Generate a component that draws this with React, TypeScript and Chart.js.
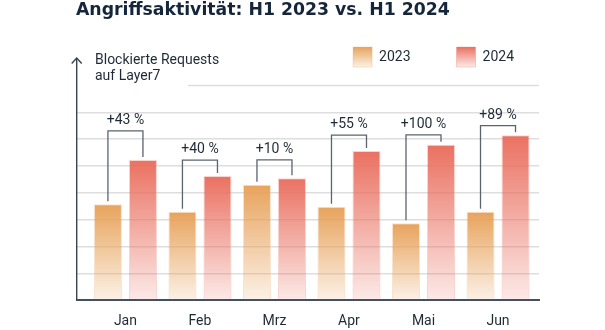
import React, { useEffect, useRef } from 'react';
import { Chart, registerables } from 'chart.js';

Chart.register(...registerables);

const TITLE = 'Angriffsaktivität: H1 2023 vs. H1 2024';
const AXIS_TITLE = ['Blockierte Requests', 'auf Layer7'];
const MONTHS = ['Jan', 'Feb', 'Mrz', 'Apr', 'Mai', 'Jun'];
const SERIES_LABELS = ['2023', '2024'];
const VALUES_2023 = [3.58, 3.3, 4.3, 3.48, 2.87, 3.3];
const VALUES_2024 = [5.23, 4.63, 4.55, 5.56, 5.79, 6.15];
const CHANGE_LABELS = ['+43 %', '+40 %', '+10 %', '+55 %', '+100 %', '+89 %'];
const BRACKET_LEVELS = [6.31, 5.22, 5.23, 6.15, 6.16, 6.51];
const GRID_VALUES = [0, 1, 2, 3, 4, 5, 6, 7, 8];

const RGB_2023 = [232, 163, 92];
const RGB_2024 = [234, 113, 97];
const TEXT_COLOR = '#1f2a36';
const GRID_COLOR = '#dedede';
const AXIS_COLOR = '#3a444f';
const BRACKET_COLOR = '#5a646f';

const rgba = (c: number[], a: number) => `rgba(${c[0]},${c[1]},${c[2]},${a})`;

const barFill = (rgb: number[]) => (ctx: any) => {
  const chart = ctx.chart;
  const { chartArea, scales } = chart;
  if (!chartArea || ctx.type !== 'data' || !ctx.parsed) return rgba(rgb, 1);
  const yTop = scales.y.getPixelForValue(ctx.parsed.y);
  const yBase = scales.y.getPixelForValue(0);
  const g = chart.ctx.createLinearGradient(0, yTop, 0, yBase);
  g.addColorStop(0, rgba(rgb, 1));
  g.addColorStop(1, rgba(rgb, 0.15));
  return g;
};

const annotPlugin = {
  id: 'annot',
  beforeDraw(chart: any) {
    const lg = chart.legend;
    if (lg && lg.legendItems && lg.legendHitBoxes) {
      lg.legendItems.forEach((item: any, i: number) => {
        const hb = lg.legendHitBoxes[i];
        if (!hb) return;
        const rgb = i === 0 ? RGB_2023 : RGB_2024;
        const g = chart.ctx.createLinearGradient(0, hb.top, 0, hb.top + hb.height);
        g.addColorStop(0, rgba(rgb, 1));
        g.addColorStop(1, rgba(rgb, 0.15));
        item.fillStyle = g;
      });
    }
  },
  beforeDatasetsDraw(chart: any) {
    const { ctx, chartArea, scales } = chart;
    ctx.save();
    const yTopGrid = scales.y.getPixelForValue(GRID_VALUES[GRID_VALUES.length - 1]);
    ctx.strokeStyle = GRID_COLOR;
    ctx.lineWidth = 1.5;
    ctx.beginPath();
    ctx.moveTo(chartArea.left + 111, yTopGrid);
    ctx.lineTo(chartArea.right, yTopGrid);
    ctx.stroke();
    const x = chartArea.left - 0.3;
    const tip = chartArea.top - 19;
    ctx.strokeStyle = AXIS_COLOR;
    ctx.lineWidth = 1.4;
    ctx.beginPath();
    ctx.moveTo(x, chartArea.bottom);
    ctx.lineTo(x, tip);
    ctx.stroke();
    ctx.beginPath();
    ctx.moveTo(x - 5, tip + 5.5);
    ctx.lineTo(x, tip);
    ctx.lineTo(x + 5, tip + 5.5);
    ctx.stroke();
    ctx.fillStyle = TEXT_COLOR;
    ctx.font = '14px Roboto';
    ctx.textAlign = 'left';
    ctx.textBaseline = 'alphabetic';
    ctx.fillText(AXIS_TITLE[0], chartArea.left + 18, chartArea.top - 13);
    ctx.fillText(AXIS_TITLE[1], chartArea.left + 18, chartArea.top + 2.5);
    ctx.restore();
  },
  afterDatasetsDraw(chart: any) {
    const { ctx, scales } = chart;
    const m0 = chart.getDatasetMeta(0);
    const m1 = chart.getDatasetMeta(1);
    ctx.save();
    ctx.strokeStyle = BRACKET_COLOR;
    ctx.lineWidth = 1.3;
    ctx.fillStyle = TEXT_COLOR;
    ctx.font = '14px Roboto';
    ctx.textAlign = 'center';
    ctx.textBaseline = 'alphabetic';
    MONTHS.forEach((_, i) => {
      const a = m0.data[i];
      const b = m1.data[i];
      if (!a || !b) return;
      const yb = scales.y.getPixelForValue(BRACKET_LEVELS[i]);
      ctx.beginPath();
      ctx.moveTo(a.x, a.y - 3);
      ctx.lineTo(a.x, yb);
      ctx.lineTo(b.x, yb);
      ctx.lineTo(b.x, b.y - 3);
      ctx.stroke();
      ctx.fillText(CHANGE_LABELS[i], (a.x + b.x) / 2, yb - 7);
    });
    ctx.restore();
  },
};

export default function App() {
  const canvasRef = useRef<HTMLCanvasElement | null>(null);

  useEffect(() => {
    if (!canvasRef.current) return;
    const chart = new Chart(canvasRef.current, {
      type: 'bar',
      data: {
        datasets: [
          {
            label: SERIES_LABELS[0],
            data: VALUES_2023.map((v, i) => ({ x: i, y: v })),
            backgroundColor: barFill(RGB_2023),
            borderColor: rgba(RGB_2023, 0.3),
            borderWidth: 1,
            categoryPercentage: 0.94,
            barPercentage: 0.8,
          },
          {
            label: SERIES_LABELS[1],
            data: VALUES_2024.map((v, i) => ({ x: i, y: v })),
            backgroundColor: barFill(RGB_2024),
            borderColor: rgba(RGB_2024, 0.3),
            borderWidth: 1,
            categoryPercentage: 0.94,
            barPercentage: 0.8,
          },
        ],
      },
      options: {
        animation: false,
        responsive: true,
        maintainAspectRatio: false,
        layout: { padding: { left: 76, right: 45, top: 0, bottom: 0 } },
        plugins: {
          title: {
            display: true,
            text: TITLE,
            align: 'start',
            color: '#15253a',
            font: { family: '"DejaVu Sans"', size: 17.3, weight: 'bold', lineHeight: 1.2 },
            padding: { top: 0.5, bottom: -20.26 },
          },
          legend: {
            display: true,
            position: 'top',
            align: 'end',
            labels: {
              boxWidth: 19,
              boxHeight: 20,
              padding: 46,
              color: TEXT_COLOR,
              font: { family: 'Roboto', size: 14 },
            },
          },
          tooltip: { enabled: false },
        },
        scales: {
          x: {
            type: 'linear',
            offset: false,
            bounds: 'data',
            grace: 0,
            min: -0.65,
            max: 5.55,
            afterBuildTicks: (s: any) => {
              s.ticks = MONTHS.map((_, i) => ({ value: i }));
            },
            afterFit: (s: any) => {
              s.height = 29.8;
            },
            ticks: {
              callback: (v: any) => MONTHS[v] ?? '',
              font: { family: 'Roboto', size: 14 },
              color: TEXT_COLOR,
              padding: 13,
              autoSkip: false,
              maxRotation: 0,
            },
            grid: { display: false, drawTicks: false, offset: false },
            border: { display: true, color: '#46505c', width: 2 },
          },
          y: {
            min: 0,
            max: 8.32,
            afterBuildTicks: (s: any) => {
              s.ticks = GRID_VALUES.map((v) => ({ value: v }));
            },
            ticks: { display: false },
            grid: {
              color: (c: any) =>
                c.tick && (c.tick.value === 0 || c.tick.value === GRID_VALUES[GRID_VALUES.length - 1])
                  ? 'rgba(0,0,0,0)'
                  : GRID_COLOR,
              lineWidth: 1.5,
              drawTicks: false,
            },
            border: { display: false },
            afterFit: (s: any) => {
              s.width = 1;
            },
          },
          y2: {
            position: 'right',
            grid: { display: false, drawTicks: false },
            ticks: { display: false },
            border: { display: false },
            afterFit: (s: any) => {
              s.width = 21;
            },
          },
        },
      },
      plugins: [annotPlugin],
    } as any);
    return () => chart.destroy();
  }, []);

  return (
    <div style={{ position: 'absolute', left: 0, top: 0, width: 605, height: 330 }}>
      <canvas ref={canvasRef} />
    </div>
  );
}
